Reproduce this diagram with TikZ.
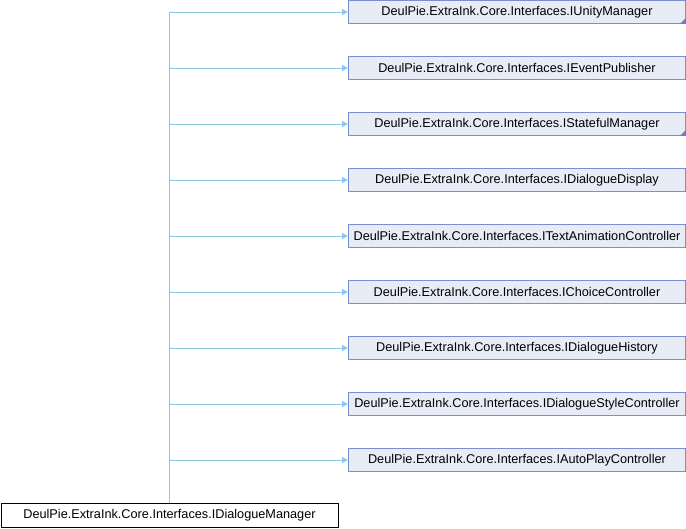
\documentclass[tikz,border=0pt]{standalone}
\usepackage{fontspec}
\setmainfont{Liberation Sans}
\usetikzlibrary{arrows.meta}
\definecolor{edgecol}{HTML}{8CC6E8}
\definecolor{boxfill}{HTML}{E8ECF6}
\definecolor{boxline}{HTML}{7A8FCB}
\definecolor{cornercol}{HTML}{6A7FC0}
\begin{document}
\begin{tikzpicture}[x=1pt,y=-1pt,
  iface/.style={draw=boxline,fill=boxfill,line width=1pt,minimum width=337pt,minimum height=22.5pt,inner sep=0pt,font=\fontsize{12.7}{14}\selectfont,anchor=west},
  mainbox/.style={draw=black,fill=white,line width=1pt,minimum width=337pt,minimum height=24pt,inner sep=0pt,font=\fontsize{12.7}{14}\selectfont,anchor=west},
  conn/.style={draw=edgecol,line width=1pt,-{Triangle[length=6pt,width=6pt]}},
  trunk/.style={draw=edgecol,line width=1pt}]
\useasboundingbox (0,0) rectangle (686,528);
\node[iface] (n1) at (348,12) {DeulPie.ExtraInk.Core.Interfaces.IUnityManager};
\node[iface] (n2) at (348,68) {DeulPie.ExtraInk.Core.Interfaces.IEventPublisher};
\node[iface] (n3) at (348,124) {DeulPie.ExtraInk.Core.Interfaces.IStatefulManager};
\node[iface] (n4) at (348,180) {DeulPie.ExtraInk.Core.Interfaces.IDialogueDisplay};
\node[iface] (n5) at (348,236) {DeulPie.ExtraInk.Core.Interfaces.ITextAnimationController};
\node[iface] (n6) at (348,292) {DeulPie.ExtraInk.Core.Interfaces.IChoiceController};
\node[iface] (n7) at (348,348) {DeulPie.ExtraInk.Core.Interfaces.IDialogueHistory};
\node[iface] (n8) at (348,404) {DeulPie.ExtraInk.Core.Interfaces.IDialogueStyleController};
\node[iface] (n9) at (348,460) {DeulPie.ExtraInk.Core.Interfaces.IAutoPlayController};
\node[mainbox] (m) at (0.5,515) {DeulPie.ExtraInk.Core.Interfaces.IDialogueManager};
\fill[cornercol] (n1.south east) -- ++(0,-6) -- ++(-6,6) -- cycle;
\fill[cornercol] (n3.south east) -- ++(0,-6) -- ++(-6,6) -- cycle;
\coordinate (t) at (169.5,12);
\draw[trunk] (m.north -| t) -- (t);
\foreach \k in {1,...,9} {
  \draw[conn] (n\k.west -| t) -- (n\k.west);
}
\end{tikzpicture}
\end{document}
